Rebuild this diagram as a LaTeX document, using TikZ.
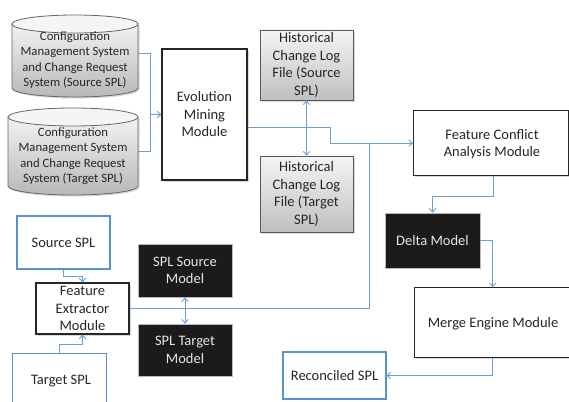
\documentclass[tikz,border=0pt]{standalone}
\usepackage{fontspec}
\setmainfont{Carlito}
\usetikzlibrary{arrows.meta,calc}

\definecolor{linkblue}{HTML}{6C9FD8}
\definecolor{boxblue}{HTML}{5A8FD0}
\definecolor{ink}{HTML}{262626}
\definecolor{darkfill}{HTML}{1C1A1A}
\definecolor{paleink}{HTML}{E6E6E6}

\tikzset{
  txt/.style={font=\fontsize{14.5pt}{17.5pt}\selectfont, text=ink, align=center, inner sep=0pt},
  cyltxt/.style={txt, font=\fontsize{12.7pt}{15.5pt}\selectfont},
  modbox/.style={txt, draw=black!85, line width=1.3pt, fill=white},
  bluebox/.style={txt, draw=boxblue, line width=1.1pt, fill=white},
  darkbox/.style={txt, draw=gray!55, line width=0.8pt, fill=darkfill, text=paleink},
  greybox/.style={txt, draw=black!65, line width=0.8pt, top color=black!4, bottom color=black!25},
  sz/.style 2 args={minimum width=#1pt, minimum height=#2pt},
  link/.style={draw=linkblue, line width=0.9pt},
  arr/.style={link, -{Straight Barb[length=3.5pt,width=6.5pt]}},
  darr/.style={link, {Straight Barb[length=3.5pt,width=6.5pt]}-{Straight Barb[length=3.5pt,width=6.5pt]}},
  cylbody/.style={draw=black!60, line width=0.8pt, top color=black!5, bottom color=black!28},
  cyltop/.style={draw=black!60, line width=0.8pt, fill=black!4},
  shade box/.style={fill=black!30, opacity=0.5}
}

\begin{document}
\begin{tikzpicture}[x=1pt, y=-1pt]
\useasboundingbox[fill=white] (0,0) rectangle (569,401);

% ---- storage cylinders ----
% source system
\fill[shade box] (13.5,25.5) -- (13.5,89.5) .. controls (13.5,94.5) and (41.7,98.5) .. (76.5,98.5)
   .. controls (111.3,98.5) and (139.5,94.5) .. (139.5,89.5) -- (139.5,25.5) -- cycle;
\path[cylbody] (12,24) -- (12,88) .. controls (12,93) and (40.2,97) .. (75,97)
   .. controls (109.8,97) and (138,93) .. (138,88) -- (138,24) -- cycle;
\path[cyltop] (75,24) ellipse [x radius=63pt, y radius=9pt];
% target system
\fill[shade box] (9.5,118.5) -- (9.5,187.5) .. controls (9.5,192.5) and (38.6,196.5) .. (74.5,196.5)
   .. controls (110.4,196.5) and (139.5,192.5) .. (139.5,187.5) -- (139.5,118.5) -- cycle;
\path[cylbody] (8,117) -- (8,186) .. controls (8,191) and (37.1,195) .. (73,195)
   .. controls (108.9,195) and (138,191) .. (138,186) -- (138,117) -- cycle;
\path[cyltop] (73,117) ellipse [x radius=65pt, y radius=9pt];

\node[cyltxt, sz={126}{82}] (cs) at (75,56) {};
\node[cyltxt] at (75,60) {Configuration\\Management System\\and Change Request\\System (Source SPL)};
\node[cyltxt, sz={130}{87}] (ct) at (73,151.5) {};
\node[cyltxt] at (73,156) {Configuration\\Management System\\and Change Request\\System (Target SPL)};

% ---- processing modules ----
\fill[shade box] (164,51) rectangle (249,182);
\node[modbox, sz={85}{131}] (evo) at (204.5,114.5) {Evolution\\Mining\\Module};

\fill[shade box] (262,32) rectangle (355,102);
\node[greybox, sz={93}{70}] (hs) at (306.5,65) {Historical\\Change Log\\File (Source\\SPL)};
\fill[shade box] (262,158) rectangle (355,234);
\node[greybox, sz={93}{76}] (ht) at (306.5,194) {Historical\\Change Log\\File (Target\\SPL)};

\fill[shade box] (415,112) rectangle (570,177);
\node[modbox, sz={155}{65}, anchor=north west] (fca) at (413,110) {};
\node[txt] at (492,144) {Feature Conflict\\Analysis Module};

\node[darkbox, sz={95}{55}] (delta) at (432.5,240.5) {Delta Model};

\fill[shade box] (416,289) rectangle (572,359);
\node[modbox, sz={156}{70}, anchor=north west] (merge) at (414,287) {};
\node[txt] at (493,324) {Merge Engine Module};

\node[bluebox, sz={103}{47}] (rec) at (334.5,375.5) {Reconciled SPL};

% ---- feature extraction ----
\node[bluebox, sz={93}{53}] (src) at (63.5,242.5) {Source SPL};
\node[bluebox, sz={94}{52}, anchor=north west] (tgt) at (12,353) {};
\node[txt] at (61,381) {Target SPL};

\fill[shade box] (37.5,284.5) rectangle (130.5,335.5);
\node[modbox, sz={93}{51}] (fe) at (82.5,308.5) {Feature\\Extractor\\Module};

\node[darkbox, sz={94}{53}] (sms) at (185,270.5) {SPL Source\\Model};
\node[darkbox, sz={94}{52}] (stm) at (185,350) {SPL Target\\Model};

% ---- connectors ----
\draw[link] ([yshift=3pt]cs.east) -- ++(12,0) |- (evo.west);
\draw[arr] (ct.east) -- ++(12,0) |- (evo.west);

\draw[link] (fe.east) -| ([xshift=-44pt]fca.west);
\draw[arr] ([yshift=-12.5pt]evo.east) -- ++(83,0) |- (fca.west);

\draw[darr] (hs.south) -- (ht.north);
\draw[darr] (sms.south) -- (stm.north);

\draw[arr] ([xshift=2.5pt]fca.south) -- ++(0,20) -| (delta.north);
\draw[arr] (delta.east) -| (merge.north);
\draw[arr] (merge.south) |- (rec.east);

\draw[arr] (src.south) -- ++(0,7) -| (fe.north);
\draw[arr] (tgt.north) -- ++(0,-9) -| (fe.south);
\end{tikzpicture}
\end{document}
